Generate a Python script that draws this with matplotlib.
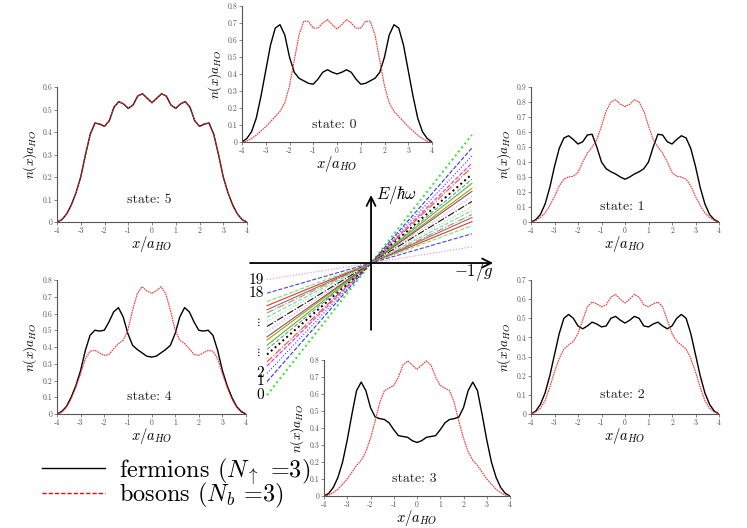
import numpy as np
import matplotlib
matplotlib.use('Agg')
import matplotlib.pyplot as plt
from matplotlib.lines import Line2D
from matplotlib.ticker import FormatStrFormatter

plt.rcParams['font.family'] = ['cmr10', 'DejaVu Serif']
plt.rcParams['mathtext.fontset'] = 'cm'
plt.rcParams['axes.unicode_minus'] = False

# x grid of the density profiles, x/a_HO
x = np.linspace(-4, 4, 41)

# densities n(x)a_HO, fermions (black) and bosons (red)
st0_f = [0.00, 0.02, 0.06, 0.14, 0.27, 0.42, 0.57, 0.67, 0.69, 0.63, 0.50, 0.41, 0.375, 0.36, 0.345, 0.34, 0.37, 0.41, 0.425, 0.41,
         0.40,
         0.41, 0.425, 0.41, 0.37, 0.34, 0.345, 0.36, 0.375, 0.41, 0.50, 0.63, 0.69, 0.67, 0.57, 0.42, 0.27, 0.14, 0.06, 0.02, 0.00]
st0_b = [0.00, 0.005, 0.02, 0.04, 0.065, 0.09, 0.12, 0.15, 0.18, 0.23, 0.33, 0.48, 0.63, 0.71, 0.71, 0.67, 0.67, 0.70, 0.72, 0.69,
         0.665,
         0.69, 0.72, 0.70, 0.67, 0.67, 0.71, 0.71, 0.63, 0.48, 0.33, 0.23, 0.18, 0.15, 0.12, 0.09, 0.065, 0.04, 0.02, 0.005, 0.00]
st1_f = [0.00, 0.015, 0.05, 0.12, 0.23, 0.37, 0.49, 0.56, 0.575, 0.55, 0.52, 0.535, 0.58, 0.585, 0.50, 0.40, 0.355, 0.335, 0.32, 0.30,
         0.285,
         0.30, 0.32, 0.335, 0.355, 0.40, 0.50, 0.585, 0.58, 0.535, 0.52, 0.55, 0.575, 0.56, 0.49, 0.37, 0.23, 0.12, 0.05, 0.015, 0.00]
st1_b = [0.00, 0.01, 0.03, 0.06, 0.11, 0.17, 0.24, 0.285, 0.30, 0.305, 0.33, 0.40, 0.46, 0.50, 0.55, 0.64, 0.74, 0.80, 0.815, 0.785,
         0.77,
         0.785, 0.815, 0.80, 0.74, 0.64, 0.55, 0.50, 0.46, 0.40, 0.33, 0.305, 0.30, 0.285, 0.24, 0.17, 0.11, 0.06, 0.03, 0.01, 0.00]
st2_f = [0.00, 0.015, 0.05, 0.11, 0.20, 0.31, 0.42, 0.50, 0.52, 0.50, 0.46, 0.445, 0.46, 0.48, 0.47, 0.455, 0.46, 0.50, 0.51, 0.49,
         0.475,
         0.49, 0.51, 0.50, 0.46, 0.455, 0.47, 0.48, 0.46, 0.445, 0.46, 0.50, 0.52, 0.50, 0.42, 0.31, 0.20, 0.11, 0.05, 0.015, 0.00]
st2_b = [0.00, 0.01, 0.03, 0.07, 0.14, 0.22, 0.29, 0.34, 0.36, 0.38, 0.42, 0.49, 0.56, 0.585, 0.575, 0.56, 0.57, 0.61, 0.625, 0.60,
         0.58,
         0.60, 0.625, 0.61, 0.57, 0.56, 0.575, 0.585, 0.56, 0.49, 0.42, 0.38, 0.36, 0.34, 0.29, 0.22, 0.14, 0.07, 0.03, 0.01, 0.00]
st3_f = [0.00, 0.015, 0.05, 0.11, 0.20, 0.33, 0.48, 0.62, 0.67, 0.62, 0.52, 0.465, 0.455, 0.45, 0.43, 0.39, 0.355, 0.35, 0.345, 0.325,
         0.315,
         0.325, 0.345, 0.35, 0.355, 0.39, 0.43, 0.45, 0.455, 0.465, 0.52, 0.62, 0.67, 0.62, 0.48, 0.33, 0.20, 0.11, 0.05, 0.015, 0.00]
st3_b = [0.00, 0.005, 0.02, 0.04, 0.07, 0.10, 0.14, 0.18, 0.21, 0.26, 0.34, 0.44, 0.55, 0.62, 0.635, 0.65, 0.70, 0.77, 0.795, 0.77,
         0.745,
         0.77, 0.795, 0.77, 0.70, 0.65, 0.635, 0.62, 0.55, 0.44, 0.34, 0.26, 0.21, 0.18, 0.14, 0.10, 0.07, 0.04, 0.02, 0.005, 0.00]
st4_f = [0.00, 0.015, 0.045, 0.10, 0.17, 0.26, 0.38, 0.47, 0.50, 0.495, 0.50, 0.55, 0.61, 0.635, 0.58, 0.48, 0.41, 0.385, 0.365, 0.345,
         0.34,
         0.345, 0.365, 0.385, 0.41, 0.48, 0.58, 0.635, 0.61, 0.55, 0.50, 0.495, 0.50, 0.47, 0.38, 0.26, 0.17, 0.10, 0.045, 0.015, 0.00]
st4_b = [0.00, 0.01, 0.04, 0.09, 0.16, 0.24, 0.33, 0.375, 0.38, 0.365, 0.35, 0.355, 0.39, 0.42, 0.44, 0.50, 0.62, 0.72, 0.76, 0.735,
         0.72,
         0.735, 0.76, 0.72, 0.62, 0.50, 0.44, 0.42, 0.39, 0.355, 0.35, 0.365, 0.38, 0.375, 0.33, 0.24, 0.16, 0.09, 0.04, 0.01, 0.00]
st5_f = [0.00, 0.01, 0.035, 0.075, 0.13, 0.20, 0.30, 0.39, 0.44, 0.435, 0.425, 0.45, 0.51, 0.535, 0.525, 0.505, 0.52, 0.56, 0.57, 0.55,
         0.53,
         0.55, 0.57, 0.56, 0.52, 0.505, 0.525, 0.535, 0.51, 0.45, 0.425, 0.435, 0.44, 0.39, 0.30, 0.20, 0.13, 0.075, 0.035, 0.01, 0.00]
st5_b = [0.00, 0.01, 0.035, 0.075, 0.13, 0.20, 0.30, 0.39, 0.44, 0.435, 0.425, 0.45, 0.51, 0.535, 0.525, 0.505, 0.52, 0.56, 0.57, 0.55,
         0.53,
         0.55, 0.57, 0.56, 0.52, 0.505, 0.525, 0.535, 0.51, 0.45, 0.425, 0.435, 0.44, 0.39, 0.30, 0.20, 0.13, 0.075, 0.035, 0.01, 0.00]

states = [0, 1, 2, 3, 4, 5]
fermions = [st0_f, st1_f, st2_f, st3_f, st4_f, st5_f]
bosons = [st0_b, st1_b, st2_b, st3_b, st4_b, st5_b]
ymax = [0.8, 0.9, 0.7, 0.8, 0.8, 0.6]

# slopes of the energy levels 0..19 in the central sketch
fan_slopes = [1.27, 1.14, 1.06, 0.99, 0.95, 0.88, 0.83, 0.79, 0.74, 0.71,
              0.66, 0.61, 0.56, 0.52, 0.48, 0.45, 0.41, 0.37, 0.29, 0.16]

W, H = 747, 528
fig = plt.figure(figsize=(W/100, H/100), dpi=100)

def px_axes(l, t, r, b):
    # axes from pixel box (left, top, right, bottom)
    return fig.add_axes([l/W, 1-b/H, (r-l)/W, (b-t)/H])

# boxes of the panels in pixels, state 0..5
boxes = [(242, 6, 432, 142), (531, 87, 719, 222), (531, 280, 719, 414),
         (324, 360, 510, 496), (57, 280, 246, 414), (57, 87, 247, 222)]

for i in range(0, len(states)):
    ax = px_axes(*boxes[i])
    ax.plot(x, fermions[i], color='black', lw=1.0)
    ax.plot(x, bosons[i], color='#ee3333', lw=0.8, ls=(0, (1.5, 0.7)))
    ax.set_xlim(-4, 4)
    ax.set_ylim(0, ymax[i])
    ax.set_xticks(np.arange(-4, 5, 1))
    ax.set_yticks(np.arange(0, ymax[i]+0.01, 0.1))
    ax.xaxis.set_major_formatter(FormatStrFormatter('%g'))
    ax.yaxis.set_major_formatter(FormatStrFormatter('%g'))
    for s in ['top', 'right']:
        ax.spines[s].set_visible(False)
    for s in ['left', 'bottom']:
        ax.spines[s].set_color('#555555')
        ax.spines[s].set_linewidth(0.8)
    ax.tick_params(direction='out', length=2, width=0.5, labelsize=5.5, pad=1.5, colors='#555555')
    ax.set_xlabel(r'$x/a_{HO}$', fontsize=10.5, labelpad=-1)
    ax.set_ylabel(r'$n(x)a_{HO}$', fontsize=9.5, labelpad=2)
    ax.text(-0.1, 0.1, 'state: %d' % states[i], fontsize=10, ha='center', va='center', color='#222222')
    ax.patch.set_alpha(0)

# central sketch: energy levels against -1/g
cx = px_axes(240, 120, 500, 405)
cx.set_xlim(-1.26, 1.24)
cx.set_ylim(-1.365, 1.375)
cx.axis('off')
fan_colors = ['#33dd33', '#3333ee', '#3344ff', '#ee22ee', '#ee5522', '#000000', '#888888', '#44bb44', '#cc8800', '#666666',
              '#ee88ee', '#111111', '#cccc55', '#55dddd', '#ee7744', '#777777', '#ee3333', '#66ee66', '#4444ee', '#dd88ee']
fan_styles = [':', '--', ':', '--', '-.', ':', '--', '-', '-', '-',
              ':', '-.', ':', '--', '-.', '-', '-', '--', '--', ':']
xl = np.array([-1.0, 0.97])
for k in range(0, len(fan_slopes)):
    lw = 1.4 if fan_styles[k] == ':' and k in (0, 5) else 0.8
    cx.plot(xl, fan_slopes[k]*xl, color=fan_colors[k], ls=fan_styles[k], lw=lw)
cx.annotate('', xy=(1.2, 0), xytext=(-1.19, 0),
            arrowprops=dict(arrowstyle='->', lw=1.3, color='black', mutation_scale=16))
cx.annotate('', xy=(0, 0.68), xytext=(0, -0.67),
            arrowprops=dict(arrowstyle='->', lw=1.3, color='black', mutation_scale=16))
cx.text(0.05, 0.65, r'$E/\hbar\omega$', fontsize=12, ha='left', va='center')
cx.text(0.80, -0.09, r'$-1/g$', fontsize=12, ha='left', va='center')
for k in [0, 1, 2, 18, 19]:
    cx.text(-1.03, -fan_slopes[k], str(k), fontsize=11, ha='right', va='center')
for yv in [-0.57, -0.86]:
    cx.text(-1.09, yv, r'$\vdots$', fontsize=8, ha='center', va='center')

# legend
h_f = Line2D([], [], color='black', lw=1.0)
h_b = Line2D([], [], color='red', lw=1.0, ls=(0, (3, 1.5)))
fig.legend([h_f, h_b], [r'fermions ($N_\uparrow$ =3)', r'bosons ($N_b$ =3)'],
           loc='upper left', bbox_to_anchor=(30/W, 1-444/H), frameon=False, fontsize=17.5,
           handlelength=2.6, handletextpad=0.55, labelspacing=-0.2, borderpad=0)

fig.savefig('out.png', dpi=100)
